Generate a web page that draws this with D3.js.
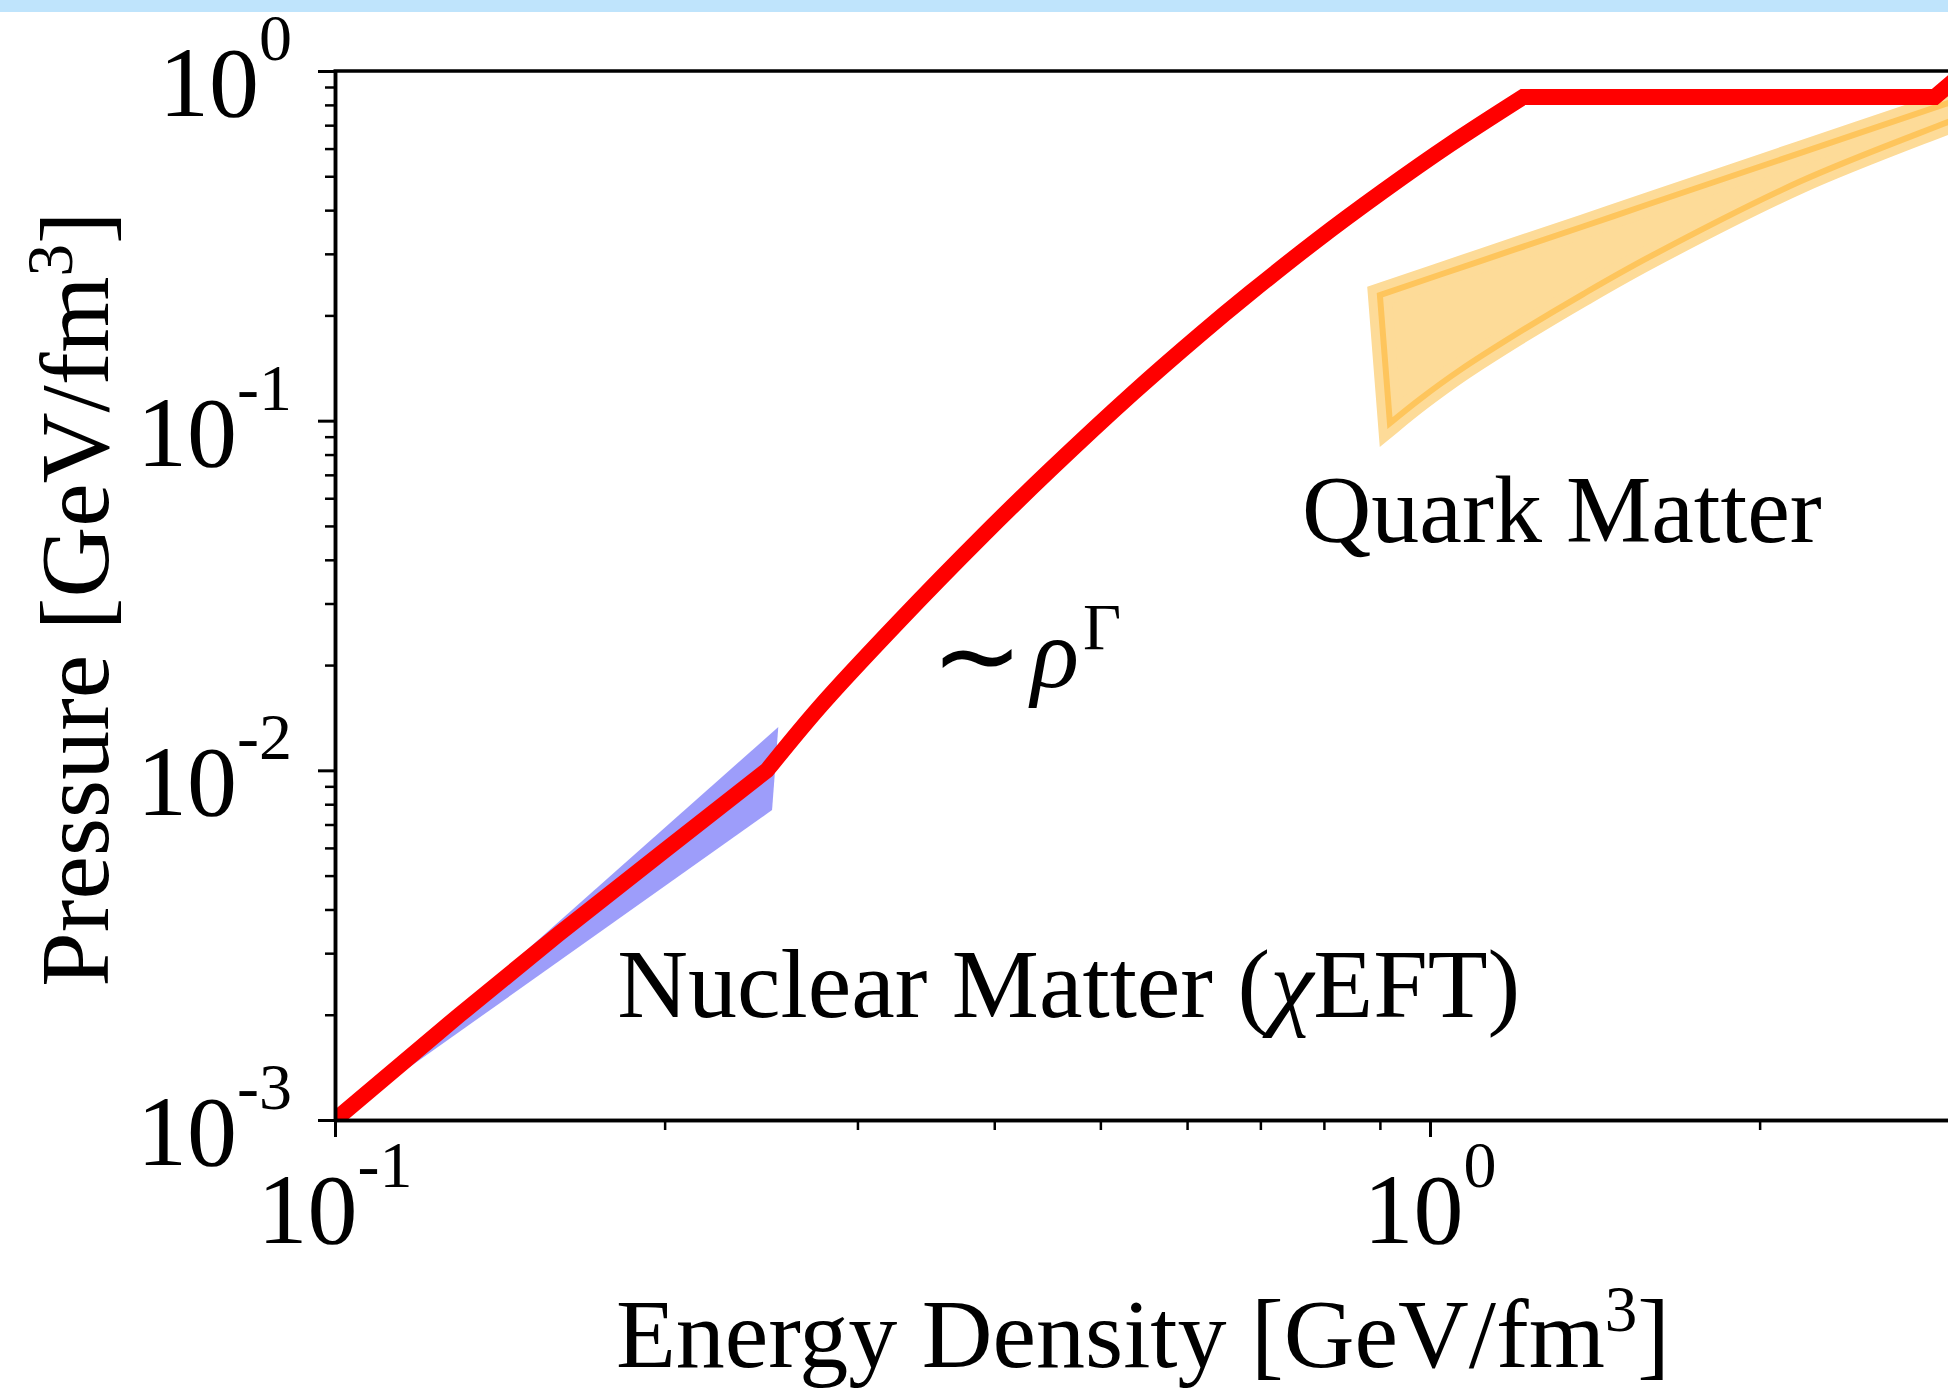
<!DOCTYPE html>
<html>
<head>
<meta charset="utf-8">
<script src="https://cdn.jsdelivr.net/npm/d3@7"></script>
<style>
  body { margin: 0; background: #fff; }
  svg { display: block; }
  text { font-family: "Liberation Serif", "Times New Roman", serif; fill: #000; }
</style>
</head>
<body>
<div id="chart"></div>
<script>
// EOS curve (red): energy density vs pressure, GeV/fm^3
// nuclear part, polytrope part, then the flat / quark part
const nuclearE = [0.1, 0.13, 0.16, 0.2, 0.248];
const nuclearP = [0.001, 0.002, 0.0034, 0.0059, 0.0100];
const polyE = [0.248, 0.2773, 0.328, 0.3907, 0.4498, 0.5357, 0.6165, 0.6849, 0.7885, 0.9058, 1.043, 1.216];
const polyP = [0.0100, 0.01523, 0.02683, 0.04699, 0.07224, 0.1201, 0.1763, 0.2317, 0.3284, 0.4529, 0.6167, 0.842];
const flatE = [1.216, 2.89, 3.0, 3.3];
const flatP = [0.842, 0.842, 0.93, 1.05];

// chiral EFT band (blue)
const chiralE = [0.1, 0.254, 0.2507];
const chiralP = [0.001, 0.0133, 0.0077];

// quark matter band (orange): upper edge and lower edge
const quarkUpperE = [0.9, 1.117, 1.38, 1.588, 2.177, 2.972, 3.3];
const quarkUpperP = [0.2286, 0.2875, 0.3591, 0.4172, 0.5823, 0.8094, 0.9054];
const quarkLowerE = [0.9192, 0.9792, 1.065, 1.201, 1.38, 1.588, 2.177, 2.972, 3.3];
const quarkLowerP = [0.0984, 0.1153, 0.1395, 0.1775, 0.2302, 0.2945, 0.4828, 0.7143, 0.8094];

// ticks
const xMajor = [0.1, 1];
const xMajorExp = ["-1", "0"];
const xMinor = [0.2, 0.3, 0.4, 0.5, 0.6, 0.7, 0.8, 0.9, 2, 3];
const yMajor = [0.001, 0.01, 0.1, 1];
const yMajorExp = ["-3", "-2", "-1", "0"];
const yMinor = [];
[0.001, 0.01, 0.1].forEach(d => { for (let k = 2; k <= 9; k++) yMinor.push(d * k); });

const W = 1948, H = 1388;
const plotLeft = 335, plotTop = 71, plotBottom = 1120;
const decade = 1095;

const x = d3.scaleLog().domain([0.1, 4]).range([plotLeft, plotLeft + decade * Math.log10(40)]);
const y = d3.scaleLog().domain([0.001, 1]).range([plotBottom, plotTop]);

const svg = d3.select("#chart").append("svg")
    .attr("width", W)
    .attr("height", H);

// light blue strip along the top
svg.append("rect").attr("x", 0).attr("y", 0).attr("width", W).attr("height", 12).attr("fill", "#bfe4fc");

svg.append("clipPath").attr("id", "plot-clip")
  .append("rect")
    .attr("x", x(0.1)).attr("y", y(1))
    .attr("width", x(4) - x(0.1)).attr("height", y(0.001) - y(1));

const plot = svg.append("g").attr("clip-path", "url(#plot-clip)");

function pts(es, ps) { return es.map((e, i) => [x(e), y(ps[i])]); }
// join path pieces into one subpath (next piece starts with L instead of M)
function joinPaths(parts) {
  return parts.map((p, i) => i === 0 ? p : "L" + p.slice(1)).join("");
}
const straight = d3.line();
const smooth = d3.line().curve(d3.curveCatmullRom.alpha(0.5));

// chiral EFT band
plot.append("path")
    .attr("d", straight(pts(chiralE, chiralP)) + "Z")
    .attr("fill", "#9d9dfa");

// quark matter band
const quarkPath = joinPaths([
  smooth(pts(quarkUpperE, quarkUpperP)),
  smooth(pts(quarkLowerE, quarkLowerP).reverse())
]) + "Z";
plot.append("path")
    .attr("d", quarkPath)
    .attr("fill", "#fddb98")
    .attr("stroke", "#fddb98")
    .attr("stroke-width", 24)
    .attr("stroke-linejoin", "miter");
plot.append("path")
    .attr("d", quarkPath)
    .attr("fill", "none")
    .attr("stroke", "#fec55c")
    .attr("stroke-width", 6)
    .attr("stroke-linejoin", "miter");

// EOS line
const eosPath = joinPaths([
  straight(pts(nuclearE, nuclearP)),
  smooth(pts(polyE, polyP)),
  straight(pts(flatE, flatP))
]);
plot.append("path")
    .attr("d", eosPath)
    .attr("fill", "none")
    .attr("stroke", "#ff0000")
    .attr("stroke-width", 16)
    .attr("stroke-linejoin", "miter");

// axes
function styleAxis(g, w) {
  g.selectAll("path").attr("stroke", "#000").attr("stroke-width", 3.5);
  g.selectAll("line").attr("stroke", "#000").attr("stroke-width", w);
}

svg.append("g")
    .attr("transform", "translate(0," + plotBottom + ")")
    .call(d3.axisBottom(x).tickValues(xMinor).tickSize(10).tickSizeOuter(0).tickFormat(""))
    .call(g => styleAxis(g, 2.5));
svg.append("g")
    .attr("transform", "translate(0," + plotBottom + ")")
    .call(d3.axisBottom(x).tickValues(xMajor).tickSize(17).tickSizeOuter(0).tickFormat(""))
    .call(g => styleAxis(g, 3));

svg.append("g")
    .attr("transform", "translate(" + plotLeft + ",0)")
    .call(d3.axisLeft(y).tickValues(yMinor).tickSize(10).tickSizeOuter(0).tickFormat(""))
    .call(g => styleAxis(g, 2.5));
svg.append("g")
    .attr("transform", "translate(" + plotLeft + ",0)")
    .call(d3.axisLeft(y).tickValues(yMajor).tickSize(17).tickSizeOuter(0).tickFormat(""))
    .call(g => styleAxis(g, 3));

// top frame line
svg.append("line")
    .attr("x1", x(0.1) - 1.5).attr("x2", x(4))
    .attr("y1", y(1)).attr("y2", y(1))
    .attr("stroke", "#000").attr("stroke-width", 3.5);

// tick labels 10^n
function powerLabel(sel, exp) {
  sel.append("tspan").text("10");
  sel.append("tspan").attr("font-size", 66).attr("dy", -56).text(exp);
}

yMajor.forEach((v, i) => {
  svg.append("text")
      .attr("x", 292)
      .attr("y", y(v) + 45)
      .attr("text-anchor", "end")
      .attr("font-size", 100)
      .call(powerLabel, yMajorExp[i]);
});

xMajor.forEach((v, i) => {
  svg.append("text")
      .attr("x", x(v))
      .attr("y", 1243)
      .attr("text-anchor", "middle")
      .attr("font-size", 100)
      .call(powerLabel, xMajorExp[i]);
});

// axis titles
function unitLabel(sel, name) {
  sel.append("tspan").text(name + " [GeV/fm");
  sel.append("tspan").attr("font-size", 65).attr("dy", -36).text("3");
  sel.append("tspan").attr("dy", 36).text("]");
}

svg.append("text")
    .attr("x", 1143)
    .attr("y", 1367)
    .attr("text-anchor", "middle")
    .attr("font-size", 98)
    .call(unitLabel, "Energy Density");

svg.append("text")
    .attr("transform", "translate(108,599) rotate(-90)")
    .attr("text-anchor", "middle")
    .attr("font-size", 98)
    .call(unitLabel, "Pressure");

// annotations
svg.append("text")
    .attr("x", x(0.764))
    .attr("y", y(0.045))
    .attr("font-size", 96)
    .text("Quark Matter");

const nuc = svg.append("text")
    .attr("x", x(0.181))
    .attr("y", y(0.00197))
    .attr("font-size", 98);
nuc.append("tspan").text("Nuclear Matter (");
nuc.append("tspan").attr("font-style", "italic").text("χ");
nuc.append("tspan").text("EFT)");

const gx = x(0.3517), gy = y(0.0173);
svg.append("text")
    .attr("x", gx - 2).attr("y", gy + 6)
    .attr("font-size", 110)
    .text("∼");
svg.append("text")
    .attr("x", gx + 98).attr("y", gy)
    .attr("font-size", 100)
    .attr("font-style", "italic")
    .text("ρ");
svg.append("text")
    .attr("x", gx + 150).attr("y", gy - 38)
    .attr("font-size", 66)
    .text("Γ");
</script>
</body>
</html>
